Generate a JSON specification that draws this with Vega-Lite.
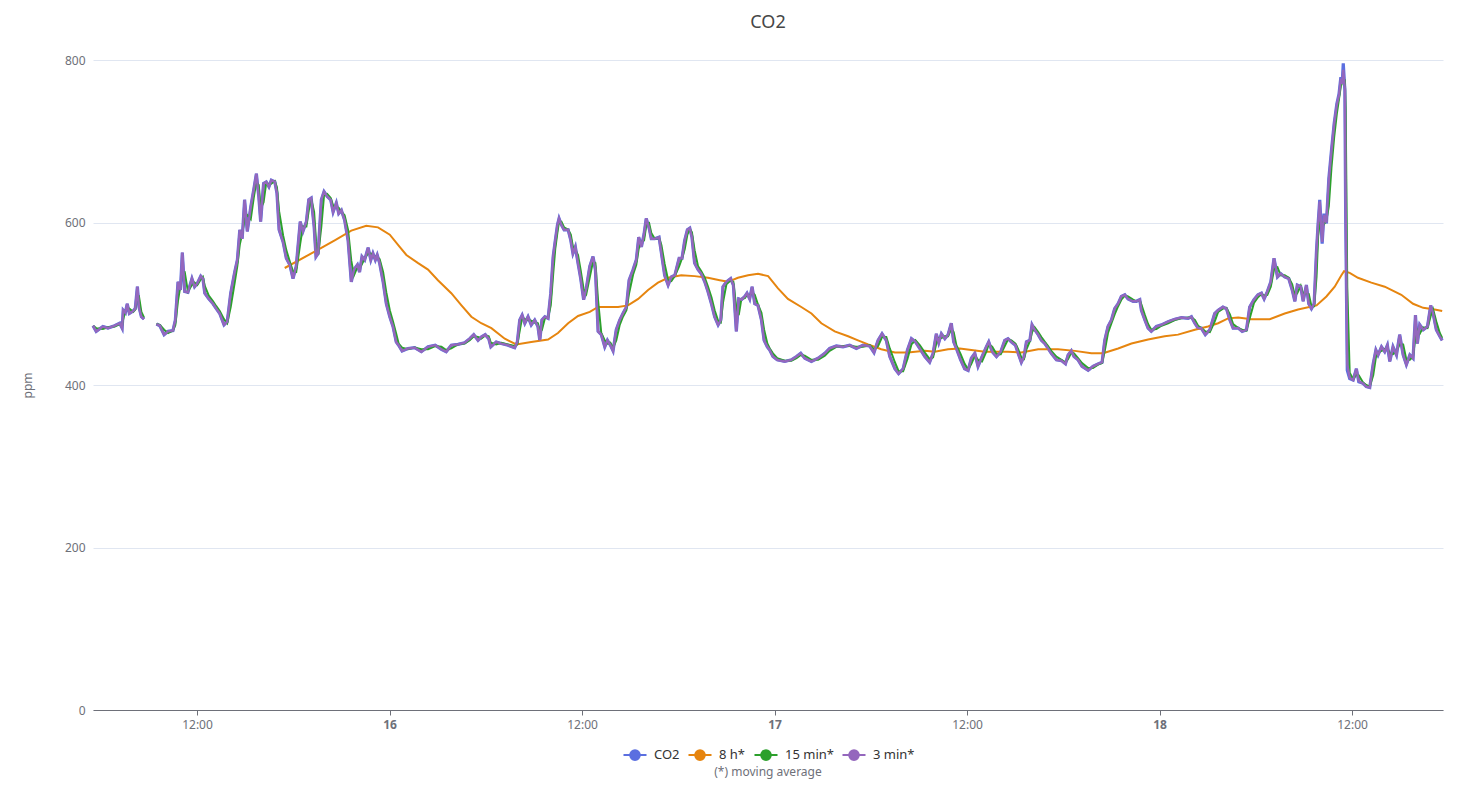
{
  "$schema": "https://vega.github.io/schema/vega-lite/v6.json",
  "width": 1350,
  "height": 650,
  "autosize": "none",
  "padding": {"left": 93, "top": 60, "right": 20, "bottom": 76},
  "background": "white",
  "view": {"stroke": null},
  "config": {"font": "Noto Sans"},
  "title": {
    "text": "CO2",
    "fontSize": 18,
    "fontWeight": "normal",
    "color": "#464646",
    "anchor": "middle",
    "frame": "group",
    "offset": 22
  },
  "datasets": {
    "fast": [
      {"t":"2024-01-15T05:31","co2":473,"m3":473,"m15":473},
      {"t":"2024-01-15T05:43","co2":466,"m3":466,"m15":470},
      {"t":"2024-01-15T06:08","co2":472,"m3":472,"m15":469},
      {"t":"2024-01-15T06:27","co2":470,"m3":470,"m15":471},
      {"t":"2024-01-15T06:52","co2":473,"m3":473,"m15":472},
      {"t":"2024-01-15T07:11","co2":476,"m3":476,"m15":475},
      {"t":"2024-01-15T07:20","co2":470,"m3":470,"m15":473},
      {"t":"2024-01-15T07:24","co2":492,"m3":492,"m15":481},
      {"t":"2024-01-15T07:32","co2":489,"m3":489,"m15":491},
      {"t":"2024-01-15T07:39","co2":500,"m3":500,"m15":495},
      {"t":"2024-01-15T07:47","co2":488,"m3":488,"m15":494},
      {"t":"2024-01-15T08:01","co2":491,"m3":491,"m15":490},
      {"t":"2024-01-15T08:09","co2":494,"m3":494,"m15":493},
      {"t":"2024-01-15T08:17","co2":521,"m3":521,"m15":508},
      {"t":"2024-01-15T08:23","co2":496,"m3":496,"m15":509},
      {"t":"2024-01-15T08:32","co2":484,"m3":484,"m15":490},
      {"t":"2024-01-15T08:42","co2":481,"m3":481,"m15":483},
      {"t":"2024-01-15T09:00","co2":null,"m3":null,"m15":null},
      {"t":"2024-01-15T09:28","co2":475,"m3":475,"m15":475},
      {"t":"2024-01-15T09:41","co2":473,"m3":473,"m15":474},
      {"t":"2024-01-15T09:57","co2":462,"m3":462,"m15":468},
      {"t":"2024-01-15T10:12","co2":466,"m3":466,"m15":464},
      {"t":"2024-01-15T10:30","co2":467,"m3":467,"m15":467},
      {"t":"2024-01-15T10:39","co2":480,"m3":480,"m15":474},
      {"t":"2024-01-15T10:49","co2":527,"m3":527,"m15":504},
      {"t":"2024-01-15T10:58","co2":517,"m3":517,"m15":522},
      {"t":"2024-01-15T11:05","co2":563,"m3":563,"m15":540},
      {"t":"2024-01-15T11:14","co2":515,"m3":515,"m15":539},
      {"t":"2024-01-15T11:26","co2":514,"m3":514,"m15":515},
      {"t":"2024-01-15T11:41","co2":531,"m3":531,"m15":523},
      {"t":"2024-01-15T11:51","co2":521,"m3":521,"m15":526},
      {"t":"2024-01-15T12:01","co2":525,"m3":525,"m15":523},
      {"t":"2024-01-15T12:14","co2":534,"m3":534,"m15":530},
      {"t":"2024-01-15T12:22","co2":531,"m3":531,"m15":533},
      {"t":"2024-01-15T12:29","co2":513,"m3":513,"m15":522},
      {"t":"2024-01-15T12:44","co2":506,"m3":506,"m15":510},
      {"t":"2024-01-15T13:00","co2":500,"m3":500,"m15":503},
      {"t":"2024-01-15T13:12","co2":494,"m3":494,"m15":497},
      {"t":"2024-01-15T13:25","co2":488,"m3":488,"m15":491},
      {"t":"2024-01-15T13:41","co2":474,"m3":474,"m15":481},
      {"t":"2024-01-15T13:53","co2":478,"m3":478,"m15":476},
      {"t":"2024-01-15T14:06","co2":513,"m3":513,"m15":496},
      {"t":"2024-01-15T14:21","co2":539,"m3":539,"m15":526},
      {"t":"2024-01-15T14:31","co2":554,"m3":554,"m15":547},
      {"t":"2024-01-15T14:40","co2":591,"m3":591,"m15":573},
      {"t":"2024-01-15T14:49","co2":580,"m3":580,"m15":586},
      {"t":"2024-01-15T14:58","co2":628,"m3":628,"m15":604},
      {"t":"2024-01-15T15:08","co2":589,"m3":589,"m15":609},
      {"t":"2024-01-15T15:21","co2":619,"m3":619,"m15":604},
      {"t":"2024-01-15T15:32","co2":640,"m3":640,"m15":630},
      {"t":"2024-01-15T15:42","co2":660,"m3":660,"m15":650},
      {"t":"2024-01-15T15:51","co2":632,"m3":632,"m15":646},
      {"t":"2024-01-15T15:58","co2":601,"m3":601,"m15":617},
      {"t":"2024-01-15T16:09","co2":648,"m3":648,"m15":625},
      {"t":"2024-01-15T16:19","co2":650,"m3":650,"m15":649},
      {"t":"2024-01-15T16:29","co2":644,"m3":644,"m15":647},
      {"t":"2024-01-15T16:38","co2":652,"m3":652,"m15":648},
      {"t":"2024-01-15T16:51","co2":650,"m3":650,"m15":651},
      {"t":"2024-01-15T16:59","co2":636,"m3":636,"m15":643},
      {"t":"2024-01-15T17:07","co2":591,"m3":591,"m15":614},
      {"t":"2024-01-15T17:22","co2":576,"m3":576,"m15":584},
      {"t":"2024-01-15T17:34","co2":556,"m3":556,"m15":566},
      {"t":"2024-01-15T17:47","co2":548,"m3":548,"m15":552},
      {"t":"2024-01-15T17:59","co2":531,"m3":531,"m15":540},
      {"t":"2024-01-15T18:11","co2":546,"m3":546,"m15":539},
      {"t":"2024-01-15T18:26","co2":601,"m3":601,"m15":574},
      {"t":"2024-01-15T18:36","co2":589,"m3":589,"m15":595},
      {"t":"2024-01-15T18:49","co2":601,"m3":601,"m15":595},
      {"t":"2024-01-15T18:58","co2":628,"m3":628,"m15":615},
      {"t":"2024-01-15T19:07","co2":630,"m3":630,"m15":629},
      {"t":"2024-01-15T19:18","co2":595,"m3":595,"m15":613},
      {"t":"2024-01-15T19:25","co2":558,"m3":558,"m15":577},
      {"t":"2024-01-15T19:33","co2":562,"m3":562,"m15":560},
      {"t":"2024-01-15T19:45","co2":628,"m3":628,"m15":595},
      {"t":"2024-01-15T19:55","co2":638,"m3":638,"m15":633},
      {"t":"2024-01-15T20:07","co2":632,"m3":632,"m15":635},
      {"t":"2024-01-15T20:20","co2":628,"m3":628,"m15":630},
      {"t":"2024-01-15T20:29","co2":613,"m3":613,"m15":621},
      {"t":"2024-01-15T20:41","co2":624,"m3":624,"m15":619},
      {"t":"2024-01-15T20:50","co2":611,"m3":611,"m15":618},
      {"t":"2024-01-15T21:00","co2":615,"m3":615,"m15":613},
      {"t":"2024-01-15T21:12","co2":603,"m3":603,"m15":609},
      {"t":"2024-01-15T21:25","co2":578,"m3":578,"m15":591},
      {"t":"2024-01-15T21:37","co2":527,"m3":527,"m15":553},
      {"t":"2024-01-15T21:47","co2":542,"m3":542,"m15":535},
      {"t":"2024-01-15T22:00","co2":548,"m3":548,"m15":545},
      {"t":"2024-01-15T22:08","co2":539,"m3":539,"m15":544},
      {"t":"2024-01-15T22:17","co2":558,"m3":558,"m15":549},
      {"t":"2024-01-15T22:27","co2":554,"m3":554,"m15":556},
      {"t":"2024-01-15T22:40","co2":569,"m3":569,"m15":562},
      {"t":"2024-01-15T22:50","co2":554,"m3":554,"m15":562},
      {"t":"2024-01-15T22:58","co2":562,"m3":562,"m15":558},
      {"t":"2024-01-15T23:07","co2":554,"m3":554,"m15":558},
      {"t":"2024-01-15T23:14","co2":560,"m3":560,"m15":557},
      {"t":"2024-01-15T23:23","co2":550,"m3":550,"m15":555},
      {"t":"2024-01-15T23:36","co2":527,"m3":527,"m15":539},
      {"t":"2024-01-15T23:48","co2":500,"m3":500,"m15":514},
      {"t":"2024-01-16T00:01","co2":484,"m3":484,"m15":492},
      {"t":"2024-01-16T00:13","co2":472,"m3":472,"m15":478},
      {"t":"2024-01-16T00:25","co2":453,"m3":453,"m15":463},
      {"t":"2024-01-16T00:34","co2":449,"m3":449,"m15":451},
      {"t":"2024-01-16T00:47","co2":442,"m3":442,"m15":446},
      {"t":"2024-01-16T01:09","co2":445,"m3":445,"m15":444},
      {"t":"2024-01-16T01:34","co2":446,"m3":446,"m15":446},
      {"t":"2024-01-16T01:59","co2":441,"m3":441,"m15":444},
      {"t":"2024-01-16T02:24","co2":447,"m3":447,"m15":444},
      {"t":"2024-01-16T02:51","co2":449,"m3":449,"m15":448},
      {"t":"2024-01-16T03:14","co2":444,"m3":444,"m15":447},
      {"t":"2024-01-16T03:32","co2":441,"m3":441,"m15":443},
      {"t":"2024-01-16T03:51","co2":449,"m3":449,"m15":445},
      {"t":"2024-01-16T04:16","co2":450,"m3":450,"m15":450},
      {"t":"2024-01-16T04:41","co2":452,"m3":452,"m15":451},
      {"t":"2024-01-16T05:00","co2":457,"m3":457,"m15":455},
      {"t":"2024-01-16T05:15","co2":462,"m3":462,"m15":460},
      {"t":"2024-01-16T05:31","co2":455,"m3":455,"m15":459},
      {"t":"2024-01-16T05:43","co2":459,"m3":459,"m15":457},
      {"t":"2024-01-16T05:58","co2":462,"m3":462,"m15":461},
      {"t":"2024-01-16T06:11","co2":457,"m3":457,"m15":460},
      {"t":"2024-01-16T06:19","co2":447,"m3":447,"m15":452},
      {"t":"2024-01-16T06:39","co2":453,"m3":453,"m15":450},
      {"t":"2024-01-16T06:58","co2":451,"m3":451,"m15":452},
      {"t":"2024-01-16T07:23","co2":449,"m3":449,"m15":450},
      {"t":"2024-01-16T07:48","co2":446,"m3":446,"m15":448},
      {"t":"2024-01-16T07:58","co2":453,"m3":453,"m15":450},
      {"t":"2024-01-16T08:07","co2":480,"m3":480,"m15":467},
      {"t":"2024-01-16T08:16","co2":486,"m3":486,"m15":483},
      {"t":"2024-01-16T08:26","co2":476,"m3":476,"m15":481},
      {"t":"2024-01-16T08:38","co2":484,"m3":484,"m15":480},
      {"t":"2024-01-16T08:50","co2":474,"m3":474,"m15":479},
      {"t":"2024-01-16T09:03","co2":480,"m3":480,"m15":477},
      {"t":"2024-01-16T09:15","co2":472,"m3":472,"m15":476},
      {"t":"2024-01-16T09:22","co2":455,"m3":455,"m15":464},
      {"t":"2024-01-16T09:30","co2":480,"m3":480,"m15":468},
      {"t":"2024-01-16T09:41","co2":484,"m3":484,"m15":482},
      {"t":"2024-01-16T09:53","co2":482,"m3":482,"m15":483},
      {"t":"2024-01-16T10:03","co2":513,"m3":513,"m15":498},
      {"t":"2024-01-16T10:12","co2":558,"m3":558,"m15":536},
      {"t":"2024-01-16T10:20","co2":578,"m3":578,"m15":568},
      {"t":"2024-01-16T10:28","co2":597,"m3":597,"m15":588},
      {"t":"2024-01-16T10:34","co2":605,"m3":605,"m15":601},
      {"t":"2024-01-16T10:43","co2":597,"m3":597,"m15":601},
      {"t":"2024-01-16T10:53","co2":591,"m3":591,"m15":594},
      {"t":"2024-01-16T11:08","co2":591,"m3":591,"m15":591},
      {"t":"2024-01-16T11:18","co2":578,"m3":578,"m15":585},
      {"t":"2024-01-16T11:26","co2":562,"m3":562,"m15":570},
      {"t":"2024-01-16T11:35","co2":570,"m3":570,"m15":566},
      {"t":"2024-01-16T11:45","co2":550,"m3":550,"m15":560},
      {"t":"2024-01-16T11:55","co2":531,"m3":531,"m15":541},
      {"t":"2024-01-16T12:06","co2":505,"m3":505,"m15":518},
      {"t":"2024-01-16T12:16","co2":519,"m3":519,"m15":512},
      {"t":"2024-01-16T12:29","co2":546,"m3":546,"m15":533},
      {"t":"2024-01-16T12:41","co2":558,"m3":558,"m15":552},
      {"t":"2024-01-16T12:50","co2":542,"m3":542,"m15":550},
      {"t":"2024-01-16T13:00","co2":466,"m3":466,"m15":504},
      {"t":"2024-01-16T13:12","co2":462,"m3":462,"m15":464},
      {"t":"2024-01-16T13:25","co2":447,"m3":447,"m15":455},
      {"t":"2024-01-16T13:35","co2":455,"m3":455,"m15":451},
      {"t":"2024-01-16T13:46","co2":449,"m3":449,"m15":452},
      {"t":"2024-01-16T13:56","co2":442,"m3":442,"m15":446},
      {"t":"2024-01-16T14:08","co2":468,"m3":468,"m15":455},
      {"t":"2024-01-16T14:21","co2":480,"m3":480,"m15":474},
      {"t":"2024-01-16T14:33","co2":488,"m3":488,"m15":484},
      {"t":"2024-01-16T14:46","co2":496,"m3":496,"m15":492},
      {"t":"2024-01-16T14:56","co2":529,"m3":529,"m15":513},
      {"t":"2024-01-16T15:11","co2":542,"m3":542,"m15":536},
      {"t":"2024-01-16T15:23","co2":554,"m3":554,"m15":548},
      {"t":"2024-01-16T15:32","co2":582,"m3":582,"m15":568},
      {"t":"2024-01-16T15:42","co2":570,"m3":570,"m15":576},
      {"t":"2024-01-16T15:52","co2":586,"m3":586,"m15":578},
      {"t":"2024-01-16T16:00","co2":605,"m3":605,"m15":596},
      {"t":"2024-01-16T16:11","co2":593,"m3":593,"m15":599},
      {"t":"2024-01-16T16:19","co2":580,"m3":580,"m15":587},
      {"t":"2024-01-16T16:32","co2":580,"m3":580,"m15":580},
      {"t":"2024-01-16T16:48","co2":582,"m3":582,"m15":581},
      {"t":"2024-01-16T16:57","co2":562,"m3":562,"m15":572},
      {"t":"2024-01-16T17:09","co2":535,"m3":535,"m15":549},
      {"t":"2024-01-16T17:22","co2":523,"m3":523,"m15":529},
      {"t":"2024-01-16T17:34","co2":533,"m3":533,"m15":528},
      {"t":"2024-01-16T17:47","co2":535,"m3":535,"m15":534},
      {"t":"2024-01-16T18:03","co2":556,"m3":556,"m15":546},
      {"t":"2024-01-16T18:14","co2":556,"m3":556,"m15":556},
      {"t":"2024-01-16T18:24","co2":578,"m3":578,"m15":567},
      {"t":"2024-01-16T18:34","co2":591,"m3":591,"m15":585},
      {"t":"2024-01-16T18:43","co2":593,"m3":593,"m15":592},
      {"t":"2024-01-16T18:51","co2":582,"m3":582,"m15":588},
      {"t":"2024-01-16T19:01","co2":550,"m3":550,"m15":566},
      {"t":"2024-01-16T19:14","co2":542,"m3":542,"m15":546},
      {"t":"2024-01-16T19:26","co2":537,"m3":537,"m15":540},
      {"t":"2024-01-16T19:39","co2":527,"m3":527,"m15":532},
      {"t":"2024-01-16T19:51","co2":515,"m3":515,"m15":521},
      {"t":"2024-01-16T20:04","co2":500,"m3":500,"m15":508},
      {"t":"2024-01-16T20:16","co2":484,"m3":484,"m15":492},
      {"t":"2024-01-16T20:29","co2":474,"m3":474,"m15":479},
      {"t":"2024-01-16T20:39","co2":480,"m3":480,"m15":477},
      {"t":"2024-01-16T20:47","co2":521,"m3":521,"m15":501},
      {"t":"2024-01-16T21:00","co2":527,"m3":527,"m15":524},
      {"t":"2024-01-16T21:16","co2":531,"m3":531,"m15":529},
      {"t":"2024-01-16T21:26","co2":523,"m3":523,"m15":527},
      {"t":"2024-01-16T21:37","co2":466,"m3":466,"m15":495},
      {"t":"2024-01-16T21:46","co2":506,"m3":506,"m15":486},
      {"t":"2024-01-16T21:56","co2":505,"m3":505,"m15":506},
      {"t":"2024-01-16T22:09","co2":509,"m3":509,"m15":507},
      {"t":"2024-01-16T22:17","co2":513,"m3":513,"m15":511},
      {"t":"2024-01-16T22:27","co2":506,"m3":506,"m15":510},
      {"t":"2024-01-16T22:36","co2":521,"m3":521,"m15":514},
      {"t":"2024-01-16T22:46","co2":500,"m3":500,"m15":511},
      {"t":"2024-01-16T22:58","co2":498,"m3":498,"m15":499},
      {"t":"2024-01-16T23:11","co2":480,"m3":480,"m15":489},
      {"t":"2024-01-16T23:21","co2":455,"m3":455,"m15":468},
      {"t":"2024-01-16T23:33","co2":447,"m3":447,"m15":451},
      {"t":"2024-01-16T23:42","co2":443,"m3":443,"m15":445},
      {"t":"2024-01-16T23:54","co2":435,"m3":435,"m15":439},
      {"t":"2024-01-17T00:10","co2":431,"m3":431,"m15":433},
      {"t":"2024-01-17T00:38","co2":429,"m3":429,"m15":430},
      {"t":"2024-01-17T01:03","co2":431,"m3":431,"m15":430},
      {"t":"2024-01-17T01:22","co2":435,"m3":435,"m15":433},
      {"t":"2024-01-17T01:38","co2":439,"m3":439,"m15":437},
      {"t":"2024-01-17T01:53","co2":433,"m3":433,"m15":436},
      {"t":"2024-01-17T02:18","co2":429,"m3":429,"m15":431},
      {"t":"2024-01-17T02:43","co2":433,"m3":433,"m15":431},
      {"t":"2024-01-17T03:08","co2":439,"m3":439,"m15":436},
      {"t":"2024-01-17T03:26","co2":445,"m3":445,"m15":442},
      {"t":"2024-01-17T03:51","co2":448,"m3":448,"m15":447},
      {"t":"2024-01-17T04:16","co2":447,"m3":447,"m15":448},
      {"t":"2024-01-17T04:41","co2":449,"m3":449,"m15":448},
      {"t":"2024-01-17T05:06","co2":445,"m3":445,"m15":447},
      {"t":"2024-01-17T05:31","co2":449,"m3":449,"m15":447},
      {"t":"2024-01-17T05:56","co2":448,"m3":448,"m15":449},
      {"t":"2024-01-17T06:12","co2":440,"m3":440,"m15":444},
      {"t":"2024-01-17T06:27","co2":455,"m3":455,"m15":448},
      {"t":"2024-01-17T06:42","co2":463,"m3":463,"m15":459},
      {"t":"2024-01-17T06:58","co2":455,"m3":455,"m15":459},
      {"t":"2024-01-17T07:11","co2":435,"m3":435,"m15":445},
      {"t":"2024-01-17T07:30","co2":420,"m3":420,"m15":428},
      {"t":"2024-01-17T07:44","co2":414,"m3":414,"m15":417},
      {"t":"2024-01-17T08:01","co2":420,"m3":420,"m15":417},
      {"t":"2024-01-17T08:17","co2":443,"m3":443,"m15":432},
      {"t":"2024-01-17T08:32","co2":457,"m3":457,"m15":450},
      {"t":"2024-01-17T08:47","co2":453,"m3":453,"m15":455},
      {"t":"2024-01-17T09:03","co2":445,"m3":445,"m15":449},
      {"t":"2024-01-17T09:22","co2":435,"m3":435,"m15":440},
      {"t":"2024-01-17T09:40","co2":428,"m3":428,"m15":432},
      {"t":"2024-01-17T09:53","co2":439,"m3":439,"m15":434},
      {"t":"2024-01-17T10:05","co2":463,"m3":463,"m15":451},
      {"t":"2024-01-17T10:14","co2":452,"m3":452,"m15":458},
      {"t":"2024-01-17T10:24","co2":463,"m3":463,"m15":458},
      {"t":"2024-01-17T10:37","co2":457,"m3":457,"m15":460},
      {"t":"2024-01-17T10:49","co2":462,"m3":462,"m15":460},
      {"t":"2024-01-17T11:01","co2":476,"m3":476,"m15":469},
      {"t":"2024-01-17T11:10","co2":453,"m3":453,"m15":465},
      {"t":"2024-01-17T11:20","co2":445,"m3":445,"m15":449},
      {"t":"2024-01-17T11:36","co2":431,"m3":431,"m15":438},
      {"t":"2024-01-17T11:51","co2":420,"m3":420,"m15":426},
      {"t":"2024-01-17T12:04","co2":418,"m3":418,"m15":419},
      {"t":"2024-01-17T12:16","co2":433,"m3":433,"m15":426},
      {"t":"2024-01-17T12:29","co2":439,"m3":439,"m15":436},
      {"t":"2024-01-17T12:41","co2":423,"m3":423,"m15":431},
      {"t":"2024-01-17T12:56","co2":435,"m3":435,"m15":429},
      {"t":"2024-01-17T13:12","co2":447,"m3":447,"m15":441},
      {"t":"2024-01-17T13:21","co2":453,"m3":453,"m15":450},
      {"t":"2024-01-17T13:34","co2":441,"m3":441,"m15":447},
      {"t":"2024-01-17T13:50","co2":435,"m3":435,"m15":438},
      {"t":"2024-01-17T14:06","co2":441,"m3":441,"m15":438},
      {"t":"2024-01-17T14:21","co2":455,"m3":455,"m15":448},
      {"t":"2024-01-17T14:33","co2":457,"m3":457,"m15":456},
      {"t":"2024-01-17T14:46","co2":453,"m3":453,"m15":455},
      {"t":"2024-01-17T15:01","co2":449,"m3":449,"m15":451},
      {"t":"2024-01-17T15:11","co2":439,"m3":439,"m15":444},
      {"t":"2024-01-17T15:23","co2":428,"m3":428,"m15":434},
      {"t":"2024-01-17T15:33","co2":435,"m3":435,"m15":432},
      {"t":"2024-01-17T15:42","co2":453,"m3":453,"m15":444},
      {"t":"2024-01-17T15:55","co2":455,"m3":455,"m15":454},
      {"t":"2024-01-17T16:03","co2":474,"m3":474,"m15":465},
      {"t":"2024-01-17T16:13","co2":468,"m3":468,"m15":471},
      {"t":"2024-01-17T16:26","co2":462,"m3":462,"m15":465},
      {"t":"2024-01-17T16:38","co2":455,"m3":455,"m15":459},
      {"t":"2024-01-17T16:51","co2":451,"m3":451,"m15":453},
      {"t":"2024-01-17T17:03","co2":445,"m3":445,"m15":448},
      {"t":"2024-01-17T17:15","co2":439,"m3":439,"m15":442},
      {"t":"2024-01-17T17:34","co2":431,"m3":431,"m15":435},
      {"t":"2024-01-17T17:53","co2":430,"m3":430,"m15":431},
      {"t":"2024-01-17T18:08","co2":426,"m3":426,"m15":428},
      {"t":"2024-01-17T18:18","co2":437,"m3":437,"m15":432},
      {"t":"2024-01-17T18:30","co2":442,"m3":442,"m15":440},
      {"t":"2024-01-17T18:40","co2":435,"m3":435,"m15":439},
      {"t":"2024-01-17T18:55","co2":431,"m3":431,"m15":433},
      {"t":"2024-01-17T19:10","co2":423,"m3":423,"m15":427},
      {"t":"2024-01-17T19:33","co2":418,"m3":418,"m15":421},
      {"t":"2024-01-17T19:51","co2":423,"m3":423,"m15":421},
      {"t":"2024-01-17T20:10","co2":426,"m3":426,"m15":425},
      {"t":"2024-01-17T20:25","co2":428,"m3":428,"m15":427},
      {"t":"2024-01-17T20:35","co2":455,"m3":455,"m15":442},
      {"t":"2024-01-17T20:47","co2":472,"m3":472,"m15":464},
      {"t":"2024-01-17T21:00","co2":480,"m3":480,"m15":476},
      {"t":"2024-01-17T21:12","co2":494,"m3":494,"m15":487},
      {"t":"2024-01-17T21:25","co2":500,"m3":500,"m15":497},
      {"t":"2024-01-17T21:37","co2":509,"m3":509,"m15":505},
      {"t":"2024-01-17T21:50","co2":511,"m3":511,"m15":510},
      {"t":"2024-01-17T22:02","co2":506,"m3":506,"m15":509},
      {"t":"2024-01-17T22:21","co2":503,"m3":503,"m15":505},
      {"t":"2024-01-17T22:33","co2":503,"m3":503,"m15":503},
      {"t":"2024-01-17T22:46","co2":505,"m3":505,"m15":504},
      {"t":"2024-01-17T22:52","co2":492,"m3":492,"m15":499},
      {"t":"2024-01-17T23:05","co2":480,"m3":480,"m15":486},
      {"t":"2024-01-17T23:17","co2":470,"m3":470,"m15":475},
      {"t":"2024-01-17T23:29","co2":466,"m3":466,"m15":468},
      {"t":"2024-01-17T23:48","co2":472,"m3":472,"m15":469},
      {"t":"2024-01-18T00:07","co2":474,"m3":474,"m15":473},
      {"t":"2024-01-18T00:32","co2":478,"m3":478,"m15":476},
      {"t":"2024-01-18T00:57","co2":481,"m3":481,"m15":480},
      {"t":"2024-01-18T01:22","co2":483,"m3":483,"m15":482},
      {"t":"2024-01-18T01:47","co2":482,"m3":482,"m15":483},
      {"t":"2024-01-18T01:59","co2":484,"m3":484,"m15":483},
      {"t":"2024-01-18T02:12","co2":476,"m3":476,"m15":480},
      {"t":"2024-01-18T02:24","co2":470,"m3":470,"m15":473},
      {"t":"2024-01-18T02:36","co2":470,"m3":470,"m15":470},
      {"t":"2024-01-18T02:51","co2":462,"m3":462,"m15":466},
      {"t":"2024-01-18T03:08","co2":468,"m3":468,"m15":465},
      {"t":"2024-01-18T03:26","co2":488,"m3":488,"m15":478},
      {"t":"2024-01-18T03:39","co2":492,"m3":492,"m15":490},
      {"t":"2024-01-18T03:57","co2":496,"m3":496,"m15":494},
      {"t":"2024-01-18T04:10","co2":494,"m3":494,"m15":495},
      {"t":"2024-01-18T04:23","co2":480,"m3":480,"m15":487},
      {"t":"2024-01-18T04:35","co2":470,"m3":470,"m15":475},
      {"t":"2024-01-18T04:54","co2":470,"m3":470,"m15":470},
      {"t":"2024-01-18T05:09","co2":466,"m3":466,"m15":468},
      {"t":"2024-01-18T05:25","co2":468,"m3":468,"m15":467},
      {"t":"2024-01-18T05:37","co2":496,"m3":496,"m15":482},
      {"t":"2024-01-18T05:53","co2":505,"m3":505,"m15":501},
      {"t":"2024-01-18T06:08","co2":511,"m3":511,"m15":508},
      {"t":"2024-01-18T06:21","co2":513,"m3":513,"m15":512},
      {"t":"2024-01-18T06:31","co2":506,"m3":506,"m15":510},
      {"t":"2024-01-18T06:43","co2":515,"m3":515,"m15":511},
      {"t":"2024-01-18T06:56","co2":527,"m3":527,"m15":521},
      {"t":"2024-01-18T07:08","co2":556,"m3":556,"m15":542},
      {"t":"2024-01-18T07:21","co2":533,"m3":533,"m15":545},
      {"t":"2024-01-18T07:33","co2":537,"m3":537,"m15":535},
      {"t":"2024-01-18T07:48","co2":533,"m3":533,"m15":535},
      {"t":"2024-01-18T08:03","co2":531,"m3":531,"m15":532},
      {"t":"2024-01-18T08:16","co2":517,"m3":517,"m15":524},
      {"t":"2024-01-18T08:26","co2":503,"m3":503,"m15":510},
      {"t":"2024-01-18T08:35","co2":523,"m3":523,"m15":513},
      {"t":"2024-01-18T08:48","co2":521,"m3":521,"m15":522},
      {"t":"2024-01-18T08:57","co2":503,"m3":503,"m15":512},
      {"t":"2024-01-18T09:09","co2":523,"m3":523,"m15":513},
      {"t":"2024-01-18T09:18","co2":500,"m3":500,"m15":512},
      {"t":"2024-01-18T09:28","co2":494,"m3":494,"m15":497},
      {"t":"2024-01-18T09:38","co2":500,"m3":500,"m15":497},
      {"t":"2024-01-18T09:47","co2":566,"m3":566,"m15":533},
      {"t":"2024-01-18T09:53","co2":599,"m3":599,"m15":583},
      {"t":"2024-01-18T09:59","co2":628,"m3":626,"m15":600},
      {"t":"2024-01-18T10:08","co2":574,"m3":576,"m15":600},
      {"t":"2024-01-18T10:15","co2":611,"m3":609,"m15":598},
      {"t":"2024-01-18T10:24","co2":599,"m3":600,"m15":603},
      {"t":"2024-01-18T10:33","co2":654,"m3":652,"m15":620},
      {"t":"2024-01-18T10:43","co2":689,"m3":688,"m15":668},
      {"t":"2024-01-18T10:53","co2":722,"m3":721,"m15":705},
      {"t":"2024-01-18T11:03","co2":746,"m3":745,"m15":734},
      {"t":"2024-01-18T11:11","co2":758,"m3":757,"m15":752},
      {"t":"2024-01-18T11:18","co2":779,"m3":777,"m15":768},
      {"t":"2024-01-18T11:23","co2":771,"m3":771,"m15":772},
      {"t":"2024-01-18T11:27","co2":796,"m3":788,"m15":778},
      {"t":"2024-01-18T11:33","co2":763,"m3":765,"m15":775},
      {"t":"2024-01-18T11:36","co2":607,"m3":620,"m15":740},
      {"t":"2024-01-18T11:42","co2":418,"m3":425,"m15":520},
      {"t":"2024-01-18T11:51","co2":408,"m3":409,"m15":415},
      {"t":"2024-01-18T12:04","co2":406,"m3":406,"m15":407},
      {"t":"2024-01-18T12:16","co2":420,"m3":420,"m15":413},
      {"t":"2024-01-18T12:25","co2":404,"m3":405,"m15":412},
      {"t":"2024-01-18T12:41","co2":402,"m3":402,"m15":403},
      {"t":"2024-01-18T12:53","co2":398,"m3":398,"m15":400},
      {"t":"2024-01-18T13:06","co2":397,"m3":397,"m15":398},
      {"t":"2024-01-18T13:19","co2":426,"m3":426,"m15":412},
      {"t":"2024-01-18T13:29","co2":443,"m3":443,"m15":434},
      {"t":"2024-01-18T13:37","co2":437,"m3":437,"m15":440},
      {"t":"2024-01-18T13:50","co2":447,"m3":447,"m15":442},
      {"t":"2024-01-18T14:02","co2":441,"m3":441,"m15":444},
      {"t":"2024-01-18T14:12","co2":449,"m3":449,"m15":445},
      {"t":"2024-01-18T14:21","co2":429,"m3":429,"m15":439},
      {"t":"2024-01-18T14:33","co2":447,"m3":447,"m15":438},
      {"t":"2024-01-18T14:46","co2":437,"m3":437,"m15":442},
      {"t":"2024-01-18T14:58","co2":462,"m3":462,"m15":450},
      {"t":"2024-01-18T15:11","co2":437,"m3":437,"m15":450},
      {"t":"2024-01-18T15:23","co2":425,"m3":425,"m15":431},
      {"t":"2024-01-18T15:36","co2":437,"m3":437,"m15":431},
      {"t":"2024-01-18T15:48","co2":433,"m3":433,"m15":435},
      {"t":"2024-01-18T15:57","co2":486,"m3":486,"m15":460},
      {"t":"2024-01-18T16:04","co2":451,"m3":451,"m15":468},
      {"t":"2024-01-18T16:13","co2":474,"m3":474,"m15":463},
      {"t":"2024-01-18T16:26","co2":468,"m3":468,"m15":471},
      {"t":"2024-01-18T16:42","co2":472,"m3":472,"m15":470},
      {"t":"2024-01-18T16:54","co2":498,"m3":498,"m15":485},
      {"t":"2024-01-18T17:03","co2":488,"m3":488,"m15":493},
      {"t":"2024-01-18T17:15","co2":468,"m3":468,"m15":478},
      {"t":"2024-01-18T17:28","co2":460,"m3":460,"m15":464},
      {"t":"2024-01-18T17:37","co2":455,"m3":455,"m15":458}
    ],
    "slow": [
      {"t":"2024-01-15T17:28","h8":544},
      {"t":"2024-01-15T19:30","h8":566},
      {"t":"2024-01-15T20:35","h8":578},
      {"t":"2024-01-15T21:37","h8":590},
      {"t":"2024-01-15T22:33","h8":596},
      {"t":"2024-01-15T23:17","h8":594},
      {"t":"2024-01-16T00:01","h8":585},
      {"t":"2024-01-16T00:38","h8":570},
      {"t":"2024-01-16T01:03","h8":560},
      {"t":"2024-01-16T01:47","h8":550},
      {"t":"2024-01-16T02:24","h8":542},
      {"t":"2024-01-16T03:01","h8":529},
      {"t":"2024-01-16T03:51","h8":513},
      {"t":"2024-01-16T04:29","h8":498},
      {"t":"2024-01-16T05:06","h8":484},
      {"t":"2024-01-16T05:43","h8":476},
      {"t":"2024-01-16T06:21","h8":470},
      {"t":"2024-01-16T07:11","h8":457},
      {"t":"2024-01-16T07:54","h8":450},
      {"t":"2024-01-16T08:50","h8":453},
      {"t":"2024-01-16T09:53","h8":456},
      {"t":"2024-01-16T10:30","h8":464},
      {"t":"2024-01-16T11:08","h8":476},
      {"t":"2024-01-16T11:45","h8":485},
      {"t":"2024-01-16T12:29","h8":490},
      {"t":"2024-01-16T13:00","h8":496},
      {"t":"2024-01-16T14:15","h8":496},
      {"t":"2024-01-16T14:52","h8":498},
      {"t":"2024-01-16T15:30","h8":506},
      {"t":"2024-01-16T16:07","h8":517},
      {"t":"2024-01-16T16:44","h8":526},
      {"t":"2024-01-16T17:22","h8":532},
      {"t":"2024-01-16T18:11","h8":535},
      {"t":"2024-01-16T19:01","h8":534},
      {"t":"2024-01-16T19:51","h8":532},
      {"t":"2024-01-16T20:35","h8":529},
      {"t":"2024-01-16T21:06","h8":527},
      {"t":"2024-01-16T21:43","h8":532},
      {"t":"2024-01-16T22:21","h8":535},
      {"t":"2024-01-16T22:58","h8":537},
      {"t":"2024-01-16T23:36","h8":534},
      {"t":"2024-01-17T00:13","h8":519},
      {"t":"2024-01-17T00:50","h8":506},
      {"t":"2024-01-17T01:40","h8":496},
      {"t":"2024-01-17T02:18","h8":488},
      {"t":"2024-01-17T02:55","h8":476},
      {"t":"2024-01-17T03:45","h8":466},
      {"t":"2024-01-17T04:35","h8":460},
      {"t":"2024-01-17T05:12","h8":455},
      {"t":"2024-01-17T05:50","h8":450},
      {"t":"2024-01-17T06:39","h8":444},
      {"t":"2024-01-17T07:30","h8":440},
      {"t":"2024-01-17T08:19","h8":440},
      {"t":"2024-01-17T09:22","h8":442},
      {"t":"2024-01-17T09:59","h8":441},
      {"t":"2024-01-17T10:49","h8":444},
      {"t":"2024-01-17T11:33","h8":445},
      {"t":"2024-01-17T12:16","h8":443},
      {"t":"2024-01-17T13:06","h8":441},
      {"t":"2024-01-17T13:56","h8":441},
      {"t":"2024-01-17T14:33","h8":441},
      {"t":"2024-01-17T15:23","h8":440},
      {"t":"2024-01-17T16:26","h8":444},
      {"t":"2024-01-17T17:40","h8":444},
      {"t":"2024-01-17T18:43","h8":442},
      {"t":"2024-01-17T19:45","h8":439},
      {"t":"2024-01-17T20:29","h8":439},
      {"t":"2024-01-17T21:25","h8":445},
      {"t":"2024-01-17T22:15","h8":451},
      {"t":"2024-01-17T23:17","h8":456},
      {"t":"2024-01-18T00:19","h8":460},
      {"t":"2024-01-18T01:09","h8":462},
      {"t":"2024-01-18T02:12","h8":468},
      {"t":"2024-01-18T03:01","h8":472},
      {"t":"2024-01-18T03:39","h8":476},
      {"t":"2024-01-18T04:16","h8":482},
      {"t":"2024-01-18T04:54","h8":483},
      {"t":"2024-01-18T05:43","h8":481},
      {"t":"2024-01-18T06:52","h8":481},
      {"t":"2024-01-18T07:48","h8":488},
      {"t":"2024-01-18T08:38","h8":493},
      {"t":"2024-01-18T09:47","h8":498},
      {"t":"2024-01-18T10:24","h8":509},
      {"t":"2024-01-18T10:55","h8":521},
      {"t":"2024-01-18T11:20","h8":535},
      {"t":"2024-01-18T11:30","h8":540},
      {"t":"2024-01-18T11:51","h8":538},
      {"t":"2024-01-18T12:22","h8":532},
      {"t":"2024-01-18T13:12","h8":526},
      {"t":"2024-01-18T14:02","h8":521},
      {"t":"2024-01-18T15:04","h8":511},
      {"t":"2024-01-18T15:48","h8":500},
      {"t":"2024-01-18T16:26","h8":495},
      {"t":"2024-01-18T17:09","h8":493},
      {"t":"2024-01-18T17:37","h8":491}
    ]
  },
  "encoding": {
    "x": {
      "field": "t",
      "type": "temporal",
      "title": null,
      "scale": {
        "domain": [
          {"year": 2024, "month": "jan", "date": 15, "hours": 5, "minutes": 31},
          {"year": 2024, "month": "jan", "date": 18, "hours": 17, "minutes": 40}
        ]
      },
      "axis": {
        "values": [
          {"year": 2024, "month": "jan", "date": 15, "hours": 12},
          {"year": 2024, "month": "jan", "date": 16, "hours": 0},
          {"year": 2024, "month": "jan", "date": 16, "hours": 12},
          {"year": 2024, "month": "jan", "date": 17, "hours": 0},
          {"year": 2024, "month": "jan", "date": 17, "hours": 12},
          {"year": 2024, "month": "jan", "date": 18, "hours": 0},
          {"year": 2024, "month": "jan", "date": 18, "hours": 12}
        ],
        "labelExpr": "hours(datum.value) == 0 ? timeFormat(datum.value, '%-d') : timeFormat(datum.value, '%H:%M')",
        "labelFontWeight": {"condition": {"test": "hours(datum.value) == 0", "value": "bold"}, "value": "normal"},
        "labelColor": "#6E7079",
        "labelFontSize": 12,
        "labelPadding": 4,
        "grid": false,
        "domainColor": "#6E7079",
        "tickColor": "#6E7079",
        "tickSize": 5
      }
    },
    "y": {
      "type": "quantitative",
      "scale": {"domain": [0, 800], "nice": false},
      "axis": {
        "title": "ppm",
        "titleColor": "#6E7079",
        "titleFontSize": 12,
        "titleFontWeight": "normal",
        "titlePadding": 30,
        "values": [0, 200, 400, 600, 800],
        "labelColor": "#6E7079",
        "labelFontSize": 12,
        "labelPadding": 8,
        "domain": false,
        "ticks": false,
        "tickSize": 0,
        "gridColor": "#E0E6F1"
      }
    }
  },
  "layer": [
    {
      "data": {"name": "fast"},
      "mark": {"type": "line", "strokeWidth": 3.2},
      "encoding": {
        "y": {"field": "co2"},
        "color": {
          "datum": "CO2",
          "scale": {
            "domain": ["CO2", "8 h*", "15 min*", "3 min*"],
            "range": ["#5B6FE0", "#E6850F", "#2CA02C", "#9467BD"]
          },
          "legend": {
            "orient": "none",
            "legendX": 529,
            "legendY": 682,
            "direction": "horizontal",
            "title": "(*) moving average",
            "titleOrient": "bottom",
            "titleAnchor": "middle",
            "titleFontWeight": "normal",
            "titleFontSize": 12,
            "titleColor": "#6E7079",
            "titlePadding": 3,
            "labelFontSize": 13,
            "labelColor": "#333333",
            "labelOffset": 6,
            "columnPadding": 4,
            "symbolType": "M-1,0L1,0M0.42,0A0.42,0.42,0,1,1,-0.42,0A0.42,0.42,0,1,1,0.42,0Z",
            "symbolSize": 530,
            "symbolStrokeWidth": 2,
            "encode": {
              "symbols": {"update": {"fill": {"scale": "color", "field": "value"}}}
            }
          }
        }
      }
    },
    {
      "data": {"name": "slow"},
      "mark": {"type": "line", "strokeWidth": 2},
      "encoding": {
        "y": {"field": "h8"},
        "color": {"datum": "8 h*"}
      }
    },
    {
      "data": {"name": "fast"},
      "mark": {"type": "line", "strokeWidth": 2},
      "encoding": {
        "y": {"field": "m15"},
        "color": {"datum": "15 min*"}
      }
    },
    {
      "data": {"name": "fast"},
      "mark": {"type": "line", "strokeWidth": 2.4},
      "encoding": {
        "y": {"field": "m3"},
        "color": {"datum": "3 min*"}
      }
    }
  ]
}
